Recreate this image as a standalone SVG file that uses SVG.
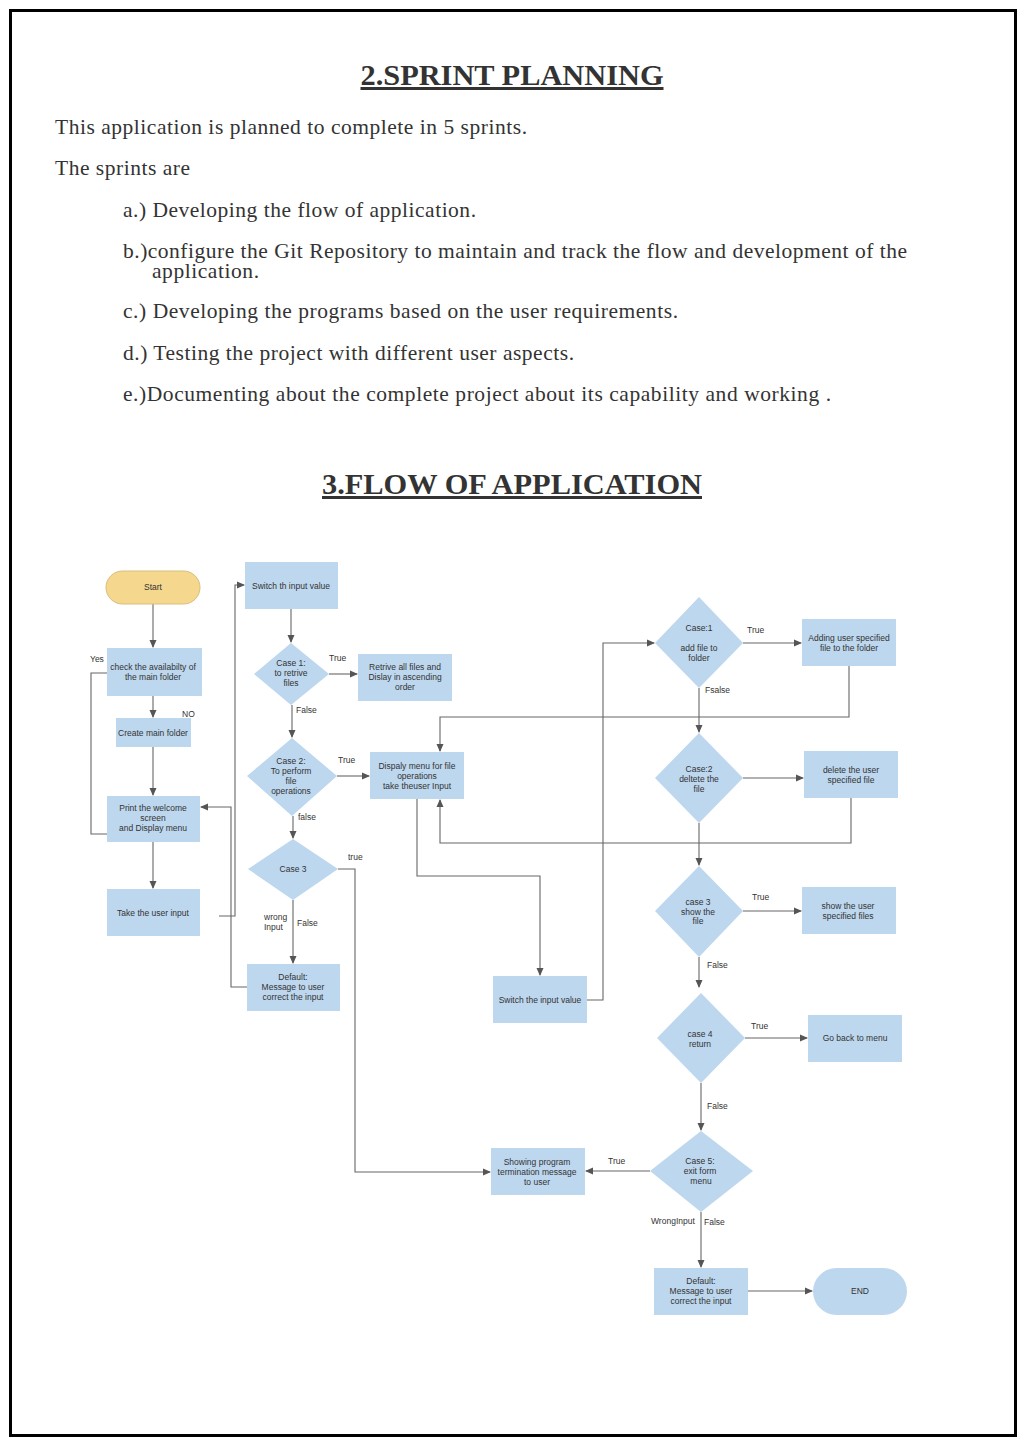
<svg xmlns="http://www.w3.org/2000/svg" width="1025" height="1446" viewBox="0 0 1025 1446">
<style>
.h{font-family:"Liberation Serif",serif;font-weight:bold;font-size:30px;fill:#333;text-anchor:middle;text-decoration:underline}
.p{font-family:"Liberation Serif",serif;font-size:21.5px;fill:#333}
.n{fill:#bdd7ee}
.t{font-family:"Liberation Sans",Arial,sans-serif;font-size:8.5px;fill:#333;text-anchor:middle}
.l{font-family:"Liberation Sans",Arial,sans-serif;font-size:8.5px;fill:#333}
.c{fill:none;stroke:#666;stroke-width:1.1}
.a{marker-end:url(#ar)}
</style>
<defs>
<marker id="ar" markerWidth="8" markerHeight="8" refX="7" refY="4" orient="auto" markerUnits="userSpaceOnUse">
<path d="M0,0.5 L8,4 L0,7.5 Z" fill="#555"/>
</marker>
</defs>
<rect x="0" y="0" width="1025" height="1446" fill="#fff"/>
<rect x="10.5" y="10.5" width="1005" height="1425" fill="none" stroke="#000" stroke-width="3"/>

<g id="text-header">
<text class="h" x="512" y="85" textLength="303" lengthAdjust="spacingAndGlyphs">2.SPRINT PLANNING</text>
<text class="p" x="55" y="134" textLength="472">This application is planned to complete in 5 sprints.</text>
<text class="p" x="55" y="175" textLength="135">The sprints are</text>
<text class="p" x="123" y="217" textLength="353">a.) Developing the flow of application.</text>
<text class="p" x="123" y="258" textLength="784">b.)configure the Git Repository to maintain and track the flow and development of the</text>
<text class="p" x="152" y="278" textLength="107">application.</text>
<text class="p" x="123" y="318" textLength="555">c.) Developing the programs based on the user requirements.</text>
<text class="p" x="123" y="360" textLength="451">d.) Testing the project with different user aspects.</text>
<text class="p" x="123" y="401" textLength="708">e.)Documenting about the complete project about its capability and working .</text>
<text class="h" x="512" y="494" textLength="380" lengthAdjust="spacingAndGlyphs">3.FLOW OF APPLICATION</text>
</g>

<g id="connectors">
<path class="c a" d="M153,604 V647"/>
<path class="c a" d="M153,696 V717"/>
<path class="c a" d="M107,673 H91 V834 H117"/>
<path class="c a" d="M153,747 V795"/>
<path class="c a" d="M153,842 V888"/>
<path class="c a" d="M219,916 H235 V585 H244"/>
<path class="c a" d="M247,987 H231 V807 H201"/>
<path class="c a" d="M291,609 V642"/>
<path class="c a" d="M329,674 H357"/>
<path class="c a" d="M292,705 V737"/>
<path class="c a" d="M337,776 H369"/>
<path class="c a" d="M293,816 V838"/>
<path class="c a" d="M293,900 V963"/>
<path class="c a" d="M338,869 H355 V1172 H490"/>
<path class="c a" d="M417,799 V876 H540 V975"/>
<path class="c a" d="M587,1000 H603 V643 H654"/>
<path class="c a" d="M743,643 H801"/>
<path class="c a" d="M699,688 V732"/>
<path class="c a" d="M849,666 V717 H440 V751"/>
<path class="c a" d="M743,778 H803"/>
<path class="c a" d="M851,798 V843 H440 V800"/>
<path class="c a" d="M699,823 V865"/>
<path class="c a" d="M743,911 H801"/>
<path class="c a" d="M699,957 V987"/>
<path class="c a" d="M745,1038 H807"/>
<path class="c a" d="M701,1083 V1130"/>
<path class="c a" d="M650,1171 H586"/>
<path class="c a" d="M701,1212 V1267"/>
<path class="c a" d="M748,1291 H812"/>
<text class="l" x="90" y="662">Yes</text>
<text class="l" x="182" y="717">NO</text>
<text class="l" x="329" y="661">True</text>
<text class="l" x="296" y="713">False</text>
<text class="l" x="338" y="763">True</text>
<text class="l" x="298" y="820">false</text>
<text class="l" x="348" y="860">true</text>
<text class="l" x="264" y="920">wrong</text>
<text class="l" x="264" y="930">Input</text>
<text class="l" x="297" y="926">False</text>
<text class="l" x="747" y="633">True</text>
<text class="l" x="705" y="693">Fsalse</text>
<text class="l" x="752" y="900">True</text>
<text class="l" x="707" y="968">False</text>
<text class="l" x="751" y="1029">True</text>
<text class="l" x="707" y="1109">False</text>
<text class="l" x="608" y="1164">True</text>
<text class="l" x="651" y="1224">WrongInput</text>
<text class="l" x="704" y="1225">False</text>
</g>

<g id="start"><rect x="106" y="571" width="94" height="33" rx="16.5" fill="#f5d78e" stroke="#d9bf7a" stroke-width="1"/><text class="t" x="153" y="590">Start</text></g>
<g id="check"><rect class="n" x="107" y="648" width="95" height="48"/><text class="t" x="153" y="670">check the availabilty of</text><text class="t" x="153" y="680">the main folder</text></g>
<g id="create"><rect class="n" x="116" y="718" width="75" height="29"/><text class="t" x="153" y="736">Create main folder</text></g>
<g id="print"><rect class="n" x="107" y="796" width="93" height="46"/><text class="t" x="153" y="811">Print the welcome</text><text class="t" x="153" y="821">screen</text><text class="t" x="153" y="831">and Display menu</text></g>
<g id="take"><rect class="n" x="107" y="889" width="93" height="47"/><text class="t" x="153" y="916">Take the user input</text></g>
<g id="switch1"><rect class="n" x="245" y="562" width="93" height="47"/><text class="t" x="291" y="589">Switch th input value</text></g>
<g id="case1a"><polygon class="n" points="291,643 329,674 291,705 254,674"/><text class="t" x="291" y="666">Case 1:</text><text class="t" x="291" y="676">to retrive</text><text class="t" x="291" y="686">files</text></g>
<g id="retrive"><rect class="n" x="358" y="654" width="94" height="47"/><text class="t" x="405" y="670">Retrive all files and</text><text class="t" x="405" y="680">Dislay in ascending</text><text class="t" x="405" y="690">order</text></g>
<g id="case2a"><polygon class="n" points="292,738 337,776 292,816 247,776"/><text class="t" x="291" y="764">Case 2:</text><text class="t" x="291" y="774">To perform</text><text class="t" x="291" y="784">file</text><text class="t" x="291" y="794">operations</text></g>
<g id="dispaly"><rect class="n" x="370" y="752" width="94" height="47"/><text class="t" x="417" y="769">Dispaly menu for file</text><text class="t" x="417" y="779">operations</text><text class="t" x="417" y="789">take theuser Input</text></g>
<g id="case3a"><polygon class="n" points="293,839 338,869 293,900 248,869"/><text class="t" x="293" y="872">Case 3</text></g>
<g id="default1"><rect class="n" x="247" y="964" width="93" height="47"/><text class="t" x="293" y="980">Default:</text><text class="t" x="293" y="990">Message to user</text><text class="t" x="293" y="1000">correct the input</text></g>
<g id="switch2"><rect class="n" x="493" y="976" width="94" height="47"/><text class="t" x="540" y="1003">Switch the input value</text></g>
<g id="case1b"><polygon class="n" points="699,597 743,643 699,688 655,643"/><text class="t" x="699" y="631">Case:1</text><text class="t" x="699" y="651">add file to</text><text class="t" x="699" y="661">folder</text></g>
<g id="adding"><rect class="n" x="802" y="619" width="94" height="47"/><text class="t" x="849" y="641">Adding user specified</text><text class="t" x="849" y="651">file to the folder</text></g>
<g id="case2b"><polygon class="n" points="699,733 743,778 699,823 655,778"/><text class="t" x="699" y="772">Case:2</text><text class="t" x="699" y="782">deltete the</text><text class="t" x="699" y="792">file</text></g>
<g id="delete"><rect class="n" x="804" y="751" width="94" height="47"/><text class="t" x="851" y="773">delete the user</text><text class="t" x="851" y="783">specified file</text></g>
<g id="case3b"><polygon class="n" points="699,866 743,911 699,957 655,911"/><text class="t" x="698" y="905">case 3</text><text class="t" x="698" y="915">show the</text><text class="t" x="698" y="924">file</text></g>
<g id="show"><rect class="n" x="802" y="887" width="94" height="47"/><text class="t" x="848" y="909">show the user</text><text class="t" x="848" y="919">specified files</text></g>
<g id="case4"><polygon class="n" points="701,993 745,1038 701,1083 657,1038"/><text class="t" x="700" y="1037">case 4</text><text class="t" x="700" y="1047">return</text></g>
<g id="goback"><rect class="n" x="808" y="1015" width="94" height="47"/><text class="t" x="855" y="1041">Go back to menu</text></g>
<g id="case5"><polygon class="n" points="701,1131 753,1171 701,1212 650,1171"/><text class="t" x="700" y="1164">Case 5:</text><text class="t" x="700" y="1174">exit form</text><text class="t" x="701" y="1184">menu</text></g>
<g id="showing"><rect class="n" x="491" y="1148" width="94" height="47"/><text class="t" x="537" y="1165">Showing program</text><text class="t" x="537" y="1175">termination message</text><text class="t" x="537" y="1185">to user</text></g>
<g id="default2"><rect class="n" x="654" y="1268" width="94" height="47"/><text class="t" x="701" y="1284">Default:</text><text class="t" x="701" y="1294">Message to user</text><text class="t" x="701" y="1304">correct the input</text></g>
<g id="end"><rect class="n" x="813" y="1268" width="94" height="47" rx="23.5"/><text class="t" x="860" y="1294">END</text></g>
</svg>
